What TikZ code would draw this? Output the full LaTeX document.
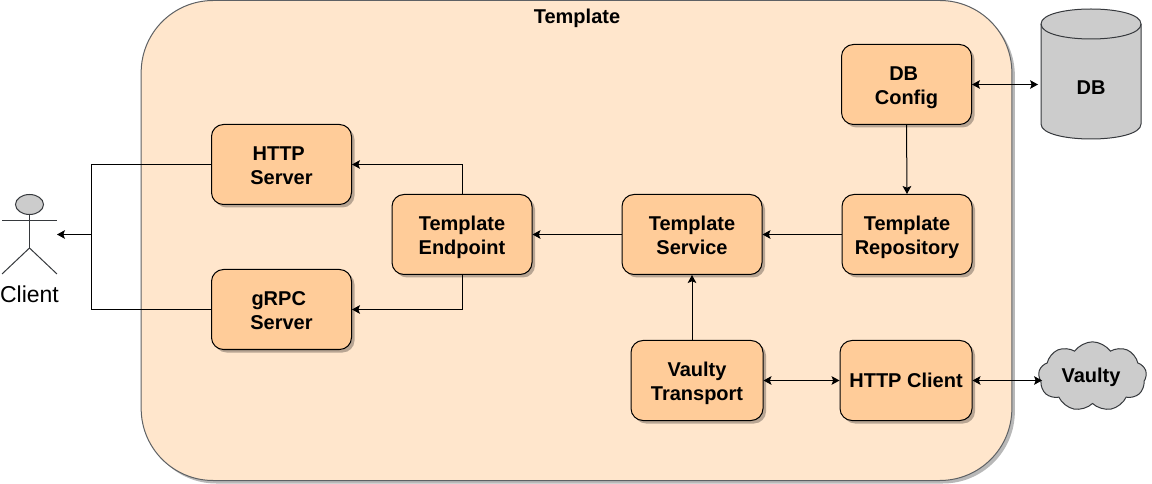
\documentclass[tikz,border=0pt]{standalone}
\usepackage{fontspec}
\setmainfont{Liberation Sans}
\usepackage{tikz}
\usetikzlibrary{shapes.geometric, shapes.symbols, arrows.meta, positioning, calc, shadows}
\definecolor{panelpeach}{HTML}{FFE6CC}
\definecolor{boxpeach}{HTML}{FFCC99}
\definecolor{storegray}{HTML}{CCCCCC}
\definecolor{edgegray}{HTML}{36393D}
\newcommand{\twolines}[2]{\rule{0pt}{15pt}#1\\#2\rule[-3pt]{0pt}{3pt}}
\tikzset{
  softshadow/.style={drop shadow={shadow xshift=2.25pt, shadow yshift=-2.25pt, fill=black, opacity=0.28}},
  panel/.style={rectangle, draw=edgegray!80, fill=panelpeach, rounded corners=54pt, softshadow},
  svcbox/.style={rectangle, draw=black, fill=boxpeach, rounded corners=9pt, align=center, inner sep=0pt, font=\fontsize{15}{18}\selectfont\bfseries, softshadow},
  extlabel/.style={font=\fontsize{15}{18}\selectfont\bfseries},
  link/.style={draw=black, line width=0.75pt, -{Stealth[length=6pt, width=6.5pt, inset=1.3pt]}},
  duplex/.style={draw=black, line width=0.75pt, {Stealth[length=6pt, width=6.5pt, inset=1.3pt]}-{Stealth[length=6pt, width=6.5pt, inset=1.3pt]}},
  limb/.style={draw=edgegray, line width=0.75pt},
  store/.style={draw=edgegray, fill=storegray, line width=0.75pt}
}
\begin{document}
\begin{tikzpicture}[x=0.75pt, y=-0.75pt, line width=0.75pt]
    \useasboundingbox (0, 0) rectangle (1152, 484);

    % Template panel
    \node[panel, minimum width=653pt, minimum height=360pt] (panel) at (576.5, 240.5) {};
    \node[extlabel] (paneltitle) at (577, 18) {Template};

    % Services
    \node[svcbox, minimum width=97.5pt, minimum height=60pt] (config) at (906.5, 84.5) {\twolines{DB\phantom{i}}{Config}};
    \node[svcbox, minimum width=97.5pt, minimum height=60pt] (repository) at (907, 234.5) {\twolines{Template}{Repository}};
    \node[svcbox, minimum width=105pt, minimum height=60pt] (service) at (692, 234.5) {\twolines{Template}{Service}};
    \node[svcbox, minimum width=105pt, minimum height=60pt] (endpoint) at (462, 234.5) {\twolines{Template}{Endpoint}};
    \node[svcbox, minimum width=105pt, minimum height=60pt] (http) at (281.5, 164.5) {\twolines{HTTP\phantom{i}}{Server}};
    \node[svcbox, minimum width=105pt, minimum height=60pt] (grpc) at (281.5, 309.5) {\twolines{gRPC\phantom{i}}{Server}};
    \node[svcbox, minimum width=99pt, minimum height=60pt] (transport) at (697, 380.5) {\twolines{Vaulty}{Transport}};
    \node[svcbox, minimum width=99pt, minimum height=60pt] (httpclient) at (906, 380.5) {HTTP Client};

    % DB
    \path[store] (1041, 24) .. controls (1041, 4) and (1141, 4) .. (1141, 24)
        -- (1141, 124) .. controls (1141, 144) and (1041, 144) .. (1041, 124) -- cycle;
    \draw[limb] (1041, 24) .. controls (1041, 44) and (1141, 44) .. (1141, 24);
    \node[extlabel] (dblabel) at (1091, 88) {DB};

    % Vaulty
    \node[cloud, cloud puffs=9, cloud puff arc=110, shape aspect=1.55, draw=edgegray, fill=storegray, minimum width=81pt, minimum height=52pt, inner sep=0pt] (vaulty) at (1092.5, 376.5) {};
    \node[extlabel] (vaultylabel) at (1091, 377) {Vaulty};

    % Client
    \node[ellipse, draw=edgegray, fill=storegray, minimum width=21pt, minimum height=15pt, inner sep=0pt] (head) at (29.5, 204.5) {};
    \coordinate (hip) at (29.5, 248);
    \coordinate (client) at (57, 234.5);
    \draw[limb] (head.south) -- (hip);
    \draw[limb] (2, 221) -- (57, 221);
    \draw[limb] (2, 274) -- (hip) -- (57, 274);
    \node[font=\fontsize{17.25}{20}\selectfont] (clientlabel) at (29.5, 294) {Client};

    % Connectors
    \coordinate (bus) at (91, 234.5);
    \draw[line width=0.75pt] (http.west) -| (bus);
    \draw[line width=0.75pt] (grpc.west) -| (bus);
    \draw[link] (bus) -- (client);
    \draw[link] (endpoint.north) |- (http.east);
    \draw[link] (endpoint.south) |- (grpc.east);
    \draw[link] (service.west) -- (endpoint.east);
    \draw[link] (repository.west) -- (service.east);
    \draw[link] (config.south) -- (repository.north);
    \draw[link] (service.south |- transport.north) -- (service.south);
    \draw[duplex] (transport.east) -- (httpclient.west);
    \coordinate (dbport) at (1038, 84.5);
    \coordinate (vaultyport) at (1042, 380.5);
    \draw[duplex] (config.east) -- (dbport);
    \draw[duplex] (httpclient.east) -- (vaultyport);
\end{tikzpicture}
\end{document}
